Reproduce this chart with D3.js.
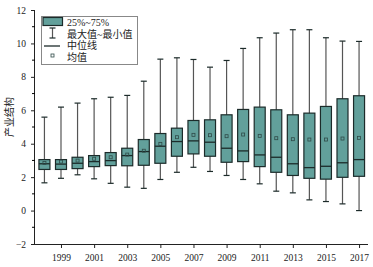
<!DOCTYPE html>
<html>
<head>
<meta charset="utf-8">
<script src="https://cdn.jsdelivr.net/npm/d3@7"></script>
<style>
  body { margin: 0; background: #fff; }
  svg text { font-family: "Liberation Serif", "Noto Sans CJK SC", serif; }
</style>
</head>
<body>
<svg id="chart" width="373" height="267"></svg>
<script>
// 数据
const years = d3.range(1998, 2018);
const maxs    = [5.59, 6.19, 6.43, 6.69, 6.78, 6.89, 7.74, 9.06, 9.14, 9.04, 8.58, 8.98, 9.70, 10.34, 10.62, 10.82, 10.82, 10.34, 10.14, 10.12];
const q3s     = [3.05, 3.05, 3.19, 3.29, 3.47, 3.73, 4.25, 4.61, 4.93, 5.39, 5.43, 5.73, 6.05, 6.19, 6.03, 5.73, 5.83, 6.23, 6.69, 6.87];
const medians = [2.80, 2.78, 2.83, 2.93, 2.99, 3.29, 3.53, 3.85, 4.13, 4.17, 4.09, 3.73, 3.57, 3.33, 3.19, 2.80, 2.57, 2.65, 2.86, 3.05];
const q1s     = [2.46, 2.46, 2.51, 2.63, 2.69, 2.68, 2.71, 2.83, 3.25, 3.39, 3.25, 2.89, 2.93, 2.63, 2.29, 2.10, 1.93, 1.88, 1.99, 2.05];
const mins    = [1.66, 1.93, 2.14, 1.90, 1.63, 1.40, 1.33, 1.86, 2.29, 2.59, 2.34, 2.10, 1.86, 1.60, 1.16, 1.06, 0.64, 0.54, 0.40, 0.00];
const means   = [2.85, 2.93, 2.99, 3.10, 3.19, 3.35, 3.58, 3.99, 4.39, 4.53, 4.51, 4.45, 4.55, 4.47, 4.33, 4.27, 4.25, 4.25, 4.31, 4.35];
const xTicks = [1999, 2001, 2003, 2005, 2007, 2009, 2011, 2013, 2015, 2017];
const yTicks = [-2, 0, 2, 4, 6, 8, 10, 12];
const legendLabels = ['25%~75%', '最大值~最小值', '中位线', '均值'];

const fillC = '#62a09b', strokeC = '#1c2b2a', whiskC = '#555';

const svg = d3.select('#chart');
const x = d3.scaleLinear().domain([1997.43, 2017.54]).range([35, 368]);
const y = d3.scaleLinear().domain([-2, 12]).range([244, 10]);
const bw = 11;

const data = years.map((yr, i) => ({
  yr, max: maxs[i], q3: q3s[i], med: medians[i], q1: q1s[i], min: mins[i], mean: means[i]
}));

// 坐标轴
const xAxis = svg.append('g').attr('transform', 'translate(0,244)')
  .call(d3.axisBottom(x).tickValues(xTicks).tickFormat(d3.format('d')).tickSize(4).tickPadding(6));
xAxis.select('.domain').attr('d', 'M35,0.5H368');

const yAxis = svg.append('g').attr('transform', 'translate(35,0)')
  .call(d3.axisLeft(y).tickValues(yTicks).tickFormat(d => d < 0 ? '\u2212' + Math.abs(d) : d).tickSize(4).tickPadding(5));
yAxis.select('.domain').attr('d', 'M-0.5,10V244');
// 次刻度
svg.append('g').selectAll('line').data(d3.range(-1, 12, 2)).join('line')
   .attr('x1', 32).attr('x2', 35).attr('y1', d => y(d)).attr('y2', d => y(d))
   .attr('stroke', '#000');

svg.selectAll('.tick text').attr('font-size', 9.5).attr('fill', '#222')
   .style('font-family', '"Liberation Serif", serif');
svg.selectAll('.domain, .tick line').attr('stroke', '#222');

// y轴标题
svg.append('text').attr('transform', 'translate(13,117) rotate(-90)')
   .attr('text-anchor', 'middle').attr('font-size', 10).attr('fill', '#222')
   .style('font-family', '"Noto Sans CJK SC", sans-serif')
   .text('产业结构');

// 箱线
const g = svg.append('g').selectAll('g').data(data).join('g')
  .attr('transform', d => `translate(${x(d.yr)},0)`);

g.append('line').attr('y1', d => y(d.max)).attr('y2', d => y(d.min))
 .attr('stroke', whiskC).attr('stroke-width', 1.2);
g.append('line').attr('x1', -3).attr('x2', 3).attr('y1', d => y(d.max)).attr('y2', d => y(d.max))
 .attr('stroke', strokeC).attr('stroke-width', 1.2);
g.append('line').attr('x1', -3).attr('x2', 3).attr('y1', d => y(d.min)).attr('y2', d => y(d.min))
 .attr('stroke', strokeC).attr('stroke-width', 1.2);
g.append('rect').attr('x', -bw / 2).attr('width', bw)
 .attr('y', d => y(d.q3)).attr('height', d => y(d.q1) - y(d.q3))
 .attr('fill', fillC).attr('stroke', strokeC).attr('stroke-width', 1.2);
g.append('line').attr('x1', -bw / 2).attr('x2', bw / 2).attr('y1', d => y(d.med)).attr('y2', d => y(d.med))
 .attr('stroke', strokeC).attr('stroke-width', 1.3);
g.append('rect').attr('x', -1.5).attr('width', 3)
 .attr('y', d => y(d.mean) - 1.5).attr('height', 3)
 .attr('fill', 'none').attr('stroke', '#2f4a48').attr('stroke-width', 0.8);

// 图例
const lg = svg.append('g');
lg.append('rect').attr('x', 41.5).attr('y', 16.5).attr('width', 96).attr('height', 48)
  .attr('fill', '#fff').attr('stroke', '#888').attr('stroke-width', 1);
lg.append('rect').attr('x', 43).attr('y', 17.5).attr('width', 19.5).attr('height', 8)
  .attr('fill', fillC).attr('stroke', strokeC).attr('stroke-width', 1.2);
lg.append('line').attr('x1', 52.5).attr('x2', 52.5).attr('y1', 28).attr('y2', 38).attr('stroke', whiskC).attr('stroke-width', 1.2);
lg.append('line').attr('x1', 49.5).attr('x2', 55.5).attr('y1', 28).attr('y2', 28).attr('stroke', strokeC).attr('stroke-width', 1.2);
lg.append('line').attr('x1', 49.5).attr('x2', 55.5).attr('y1', 38).attr('y2', 38).attr('stroke', strokeC).attr('stroke-width', 1.2);
lg.append('line').attr('x1', 44).attr('x2', 60).attr('y1', 46).attr('y2', 46).attr('stroke', strokeC).attr('stroke-width', 1.3);
lg.append('rect').attr('x', 51).attr('y', 54).attr('width', 3).attr('height', 3)
  .attr('fill', 'none').attr('stroke', '#2f4a48').attr('stroke-width', 0.8);

lg.selectAll('text').data(legendLabels).join('text')
  .attr('x', 67).attr('y', (d, i) => [22.5, 34.5, 45.5, 57][i]).attr('dy', '0.35em')
  .attr('font-size', 10).attr('fill', '#222')
  .style('font-family', '"Liberation Serif", "Noto Sans CJK SC", serif')
  .text(d => d);
</script>
</body>
</html>
